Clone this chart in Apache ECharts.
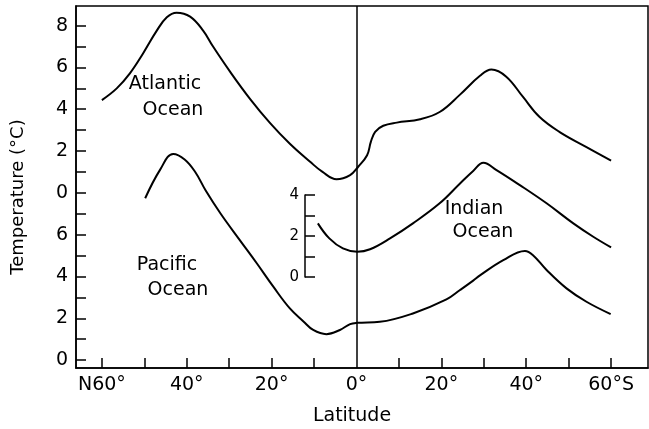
<!DOCTYPE html>
<html><head><meta charset="utf-8">
<script src="https://cdn.jsdelivr.net/npm/echarts@6/dist/echarts.min.js"></script>
<style>html,body{margin:0;padding:0;background:#fff}#c{width:649px;height:429px}</style>
</head><body><div id="c"></div>
<script>
// Latitude: negative = North, positive = South
const atlanticLat  = [-60,-56.5,-53.4,-50.3,-47.1,-44.7,-42.4,-39.2,-36.1,-33.8,-29.8,-25.1,-20.4,-15.7,-11.0,-8.0,-4.7,-1.5,0.4,2.5,3.4,4.4,6.3,9.5,15.0,19.7,24.4,29.1,31.8,35.3,39.2,43.1,47.8,54.1,60];
const atlanticTemp = [4.44,5.0,5.72,6.67,7.75,8.4,8.62,8.43,7.75,7.0,5.8,4.5,3.35,2.35,1.5,1.0,0.65,0.85,1.25,1.8,2.45,2.92,3.21,3.36,3.52,3.88,4.7,5.6,5.9,5.56,4.6,3.64,2.92,2.2,1.54];
const atlanticOffset = 8;

const pacificLat  = [-49.8,-46.3,-43.2,-40.5,-38.0,-35.5,-32.0,-27.5,-23.5,-19.6,-15.7,-12.5,-10.2,-7.1,-3.9,-1.5,0.2,5.5,13.3,21.2,24.4,27.5,29.1,34.6,39.7,41.6,44.8,49.5,54.2,59.9];
const pacificTemp = [7.74,9.1,9.86,9.6,9.0,8.1,7.0,5.74,4.63,3.51,2.47,1.85,1.44,1.24,1.44,1.72,1.78,1.83,2.23,2.9,3.35,3.8,4.05,4.78,5.22,5.02,4.31,3.43,2.79,2.2];
const pacificOffset = 0;

const indianLat  = [-9.1,-6.4,-3.2,0.2,3.2,7.9,13.3,19.6,24.4,27.5,29.9,33.0,38.5,44.8,51.1,55.8,60.0];
const indianTemp = [2.54,1.82,1.34,1.18,1.3,1.82,2.54,3.5,4.45,5.05,5.44,5.09,4.37,3.5,2.54,1.9,1.39];
const indianOffset = 4;

const xTickValues  = [-60,-50,-40,-30,-20,-10,10,20,30,40,50,60];
const xLabelValues = [-60,-40,-20,0,20,40,60];
const yTickValues  = [0,1,2,3,4,5,6,7,8,9,10,11,12,13,14,15,16];
const yLabelValues = [0,2,4,6,8,10,12,14,16];
const indianScaleTicks  = [0,1,2,3,4];
const indianScaleLabels = [0,2,4];

const FONT = 'DejaVu Sans';
const toPts = (lat, t, off) => lat.map((x, i) => [x, t[i] + off]);

const chart = echarts.init(document.getElementById('c'), null, {renderer: 'canvas'});
const lineStyle = {color: '#000', width: 2};
chart.setOption({
  animation: false,
  backgroundColor: '#fff',
  grid: [
    {left: 76, top: 6, right: 1, bottom: 61, show: true, borderColor: '#000', borderWidth: 1.5, outerBoundsMode: 'none', containLabel: false},
    {left: 305, top: 195, width: 20, height: 82, show: false, outerBoundsMode: 'none', containLabel: false}
  ],
  xAxis: [
    {
      type: 'value', gridIndex: 0, min: -66.1, max: 68.7,
      splitLine: {show: false},
      axisLine: {show: true, onZero: false, lineStyle: {color: '#000', width: 1.5}},
      axisTick: {show: true, inside: true, length: 10, customValues: xTickValues, lineStyle: {color: '#000', width: 1.5}},
      axisLabel: {customValues: xLabelValues, color: '#000', fontFamily: FONT, fontSize: 19, margin: 8,
        formatter: v => v === -60 ? 'N60°' : (v === 60 ? '60°S' : Math.abs(v) + '°')},
      name: 'Latitude', nameLocation: 'middle', nameGap: 39,
      nameTextStyle: {color: '#000', fontFamily: FONT, fontSize: 19, padding: [0, 20, 0, 0]}
    },
    {type: 'value', gridIndex: 1, min: 0, max: 1, show: false}
  ],
  yAxis: [
    {
      type: 'value', gridIndex: 0, min: -0.38, max: 16.94,
      splitLine: {show: false},
      axisLine: {show: true, onZero: false, lineStyle: {color: '#000', width: 1.5}},
      axisTick: {show: true, inside: true, length: 10, customValues: yTickValues, lineStyle: {color: '#000', width: 1.5}},
      axisLabel: {customValues: yLabelValues, color: '#000', fontFamily: FONT, fontSize: 19, margin: 8,
        formatter: v => String(v >= 8 ? v - 8 : v)},
      name: 'Temperature (°C)', nameLocation: 'middle', nameGap: 49,
      nameTextStyle: {color: '#000', fontFamily: FONT, fontSize: 18, padding: [0, 20, 0, 0]}
    },
    {
      type: 'value', gridIndex: 1, min: 0, max: 4,
      splitLine: {show: false},
      axisLine: {show: true, onZero: false, lineStyle: {color: '#000', width: 1.5}},
      axisTick: {show: true, inside: true, length: 10, customValues: indianScaleTicks, lineStyle: {color: '#000', width: 1.5}},
      axisLabel: {customValues: indianScaleLabels, color: '#000', fontFamily: FONT, fontSize: 15, margin: 6}
    }
  ],
  series: [
    {type: 'line', name: 'Atlantic Ocean', xAxisIndex: 0, yAxisIndex: 0, data: toPts(atlanticLat, atlanticTemp, atlanticOffset),
      smooth: 0.4, showSymbol: false, lineStyle: lineStyle,
      markLine: {silent: true, symbol: 'none', label: {show: false}, lineStyle: {color: '#000', width: 1.5, type: 'solid'}, data: [{xAxis: 0}]}},
    {type: 'line', name: 'Pacific Ocean', xAxisIndex: 0, yAxisIndex: 0, data: toPts(pacificLat, pacificTemp, pacificOffset),
      smooth: 0.4, showSymbol: false, lineStyle: lineStyle},
    {type: 'line', name: 'Indian Ocean', xAxisIndex: 0, yAxisIndex: 0, data: toPts(indianLat, indianTemp, indianOffset),
      smooth: 0.4, showSymbol: false, lineStyle: lineStyle}
  ],
  graphic: [
    {type: 'text', x: 165, y: 84, style: {text: 'Atlantic', fill: '#000', font: '19px "DejaVu Sans"', align: 'center', verticalAlign: 'middle'}},
    {type: 'text', x: 173, y: 110, style: {text: 'Ocean', fill: '#000', font: '19px "DejaVu Sans"', align: 'center', verticalAlign: 'middle'}},
    {type: 'text', x: 167, y: 265, style: {text: 'Pacific', fill: '#000', font: '19px "DejaVu Sans"', align: 'center', verticalAlign: 'middle'}},
    {type: 'text', x: 178, y: 290, style: {text: 'Ocean', fill: '#000', font: '19px "DejaVu Sans"', align: 'center', verticalAlign: 'middle'}},
    {type: 'text', x: 474, y: 209, style: {text: 'Indian', fill: '#000', font: '19px "DejaVu Sans"', align: 'center', verticalAlign: 'middle'}},
    {type: 'text', x: 483, y: 232, style: {text: 'Ocean', fill: '#000', font: '19px "DejaVu Sans"', align: 'center', verticalAlign: 'middle'}}
  ]
});
</script>
</body></html>
